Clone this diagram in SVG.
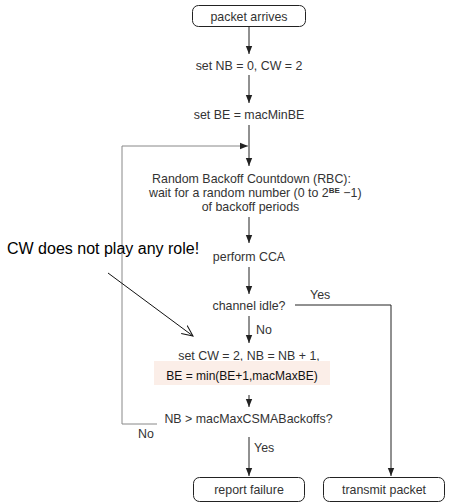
<svg xmlns="http://www.w3.org/2000/svg" width="457" height="503" viewBox="0 0 457 503">
<defs>
<marker id="ah" viewBox="0 0 8 8" refX="8" refY="4" markerWidth="8" markerHeight="8" markerUnits="userSpaceOnUse" orient="auto">
<path d="M0,0.8 L8,4 L0,7.2 Z" fill="#222"/>
</marker>
<marker id="open" viewBox="0 0 12 12" refX="11" refY="6" markerWidth="12" markerHeight="12" markerUnits="userSpaceOnUse" orient="auto">
<path d="M0,1 L11,6 L0,11" fill="none" stroke="#111" stroke-width="1"/>
</marker>
<style>
text{font-family:"Liberation Sans",Arial,sans-serif;font-size:12.4px;fill:#333}
.c{text-anchor:middle}
.box{fill:#fff;stroke:#222;stroke-width:1}
.ln{fill:none;stroke:#222;stroke-width:1}
.fb{fill:none;stroke:#888;stroke-width:1}
</style>
</defs>
<rect width="457" height="503" fill="#fff"/>
<g id="connectors">
<line class="ln" x1="249" y1="26" x2="249" y2="54" marker-end="url(#ah)"/>
<line class="ln" x1="249" y1="75" x2="249" y2="103" marker-end="url(#ah)"/>
<line class="ln" x1="249" y1="125" x2="249" y2="166" marker-end="url(#ah)"/>
<line class="ln" x1="249" y1="217" x2="249" y2="243" marker-end="url(#ah)"/>
<line class="ln" x1="249" y1="267" x2="249" y2="294" marker-end="url(#ah)"/>
<line class="ln" x1="249" y1="316" x2="249" y2="343" marker-end="url(#ah)"/>
<line class="ln" x1="249" y1="395" x2="249" y2="407" marker-end="url(#ah)"/>
<line class="ln" x1="249" y1="437" x2="249" y2="476" marker-end="url(#ah)"/>
<path class="ln" d="M295,305 H391 V476" marker-end="url(#ah)"/>
<path class="fb" d="M157,424 H122 V146 H248" marker-end="url(#ah)"/>
<line x1="108" y1="273" x2="193" y2="336" stroke="#111" stroke-width="1" marker-end="url(#open)"/>
<text x="310" y="299">Yes</text>
<text x="256" y="334">No</text>
<text x="138" y="438">No</text>
<text x="254" y="452">Yes</text>
</g>
<g id="start">
<rect class="box" x="192.5" y="5.5" width="113" height="21" rx="6"/>
<text class="c" x="249" y="20.5">packet arrives</text>
</g>
<g id="init">
<text class="c" x="249" y="69.5">set NB = 0, CW = 2</text>
</g>
<g id="setbe">
<text class="c" x="249" y="118.5">set BE = macMinBE</text>
</g>
<g id="rbc">
<text class="c" x="251.5" y="182.5">Random Backoff Countdown (RBC):</text>
<text x="149" y="196.5">wait for a random number (0 to 2<tspan dy="-4" font-size="8" font-weight="bold">BE</tspan><tspan dy="4"> −1)</tspan></text>
<text class="c" x="250.5" y="210.5">of backoff periods</text>
</g>
<g id="cca">
<text class="c" x="249" y="260.5">perform CCA</text>
</g>
<g id="idle">
<text class="c" x="249" y="309.5">channel idle?</text>
</g>
<g id="update">
<text class="c" x="249" y="359.5">set CW = 2, NB = NB + 1,</text>
<rect x="154" y="361" width="176" height="24" fill="#fbeee8"/>
<text class="c" x="242" y="379.5" style="fill:#111;font-size:12px">BE = min(BE+1,macMaxBE)</text>
</g>
<g id="check">
<text class="c" x="248.5" y="422.5">NB &gt; macMaxCSMABackoffs?</text>
</g>
<g id="failure">
<rect class="box" x="193.5" y="477.5" width="111" height="24" rx="6"/>
<text class="c" x="249" y="493.5">report failure</text>
</g>
<g id="transmit">
<rect class="box" x="323.5" y="477.5" width="121" height="24" rx="6"/>
<text class="c" x="384" y="493.5">transmit packet</text>
</g>
<g id="note">
<text x="7" y="254" style="font-size:16px;fill:#000">CW does not play any role!</text>
</g>
</svg>
